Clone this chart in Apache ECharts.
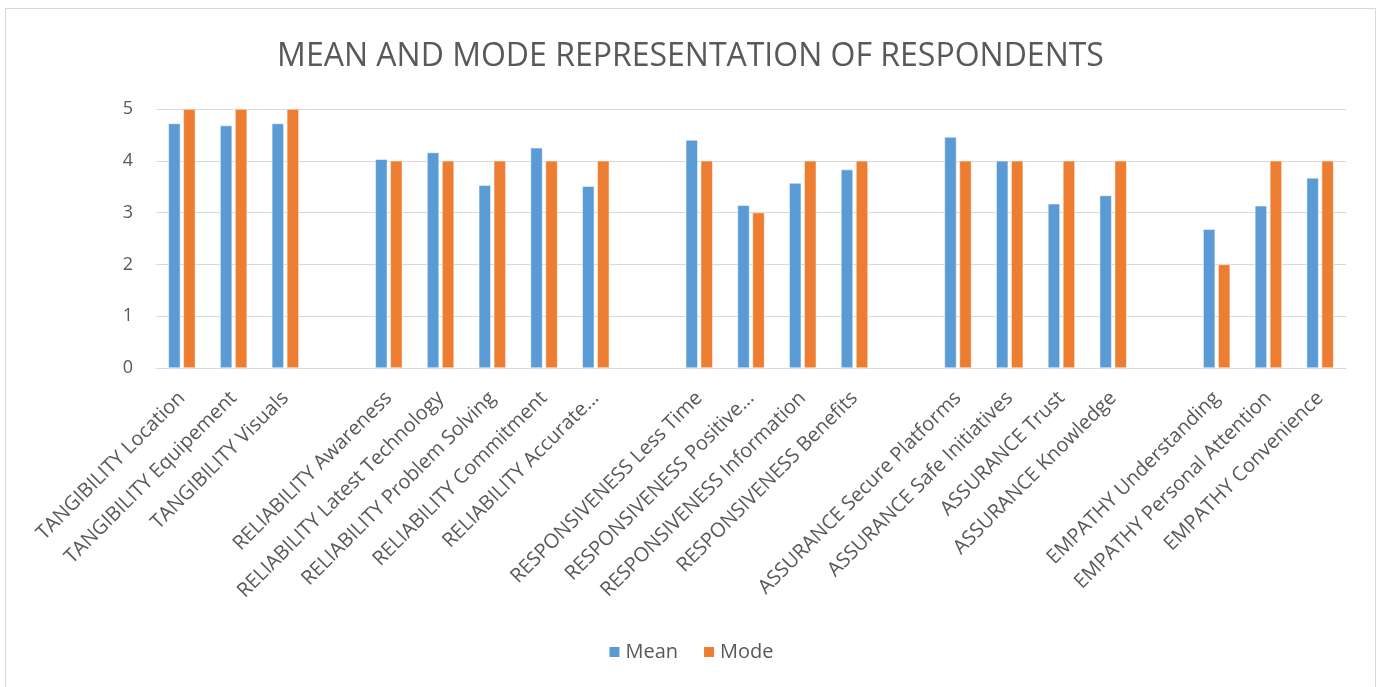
<!DOCTYPE html>
<html><head><meta charset="utf-8">
<script src="https://cdn.jsdelivr.net/npm/echarts@6/dist/echarts.min.js"></script>
<style>
html,body{margin:0;padding:0;background:#fff;}
#frame{position:absolute;left:5px;top:8px;width:1371px;height:690px;border:1px solid #d9d9d9;box-sizing:border-box;}
#c{width:1381px;height:687px;position:absolute;left:0;top:0;}
</style></head>
<body><div id="frame"></div><div id="c"></div>
<script>
const categories = [
 'TANGIBILITY Location','TANGIBILITY Equipement','TANGIBILITY Visuals','',
 'RELIABILITY Awareness','RELIABILITY Latest Technology','RELIABILITY Problem Solving','RELIABILITY Commitment','RELIABILITY Accurate...','',
 'RESPONSIVENESS Less Time','RESPONSIVENESS Positive...','RESPONSIVENESS Information','RESPONSIVENESS Benefits','',
 'ASSURANCE Secure Platforms','ASSURANCE Safe Initiatives','ASSURANCE Trust','ASSURANCE Knowledge','',
 'EMPATHY Understanding','EMPATHY Personal Attention','EMPATHY Convenience'
];
const meanValues = [4.72,4.68,4.72,'-', 4.03,4.16,3.53,4.25,3.51,'-', 4.40,3.14,3.57,3.83,'-', 4.46,4.00,3.17,3.33,'-', 2.68,3.13,3.67];
const modeValues = [5,5,5,'-', 4,4,4,4,4,'-', 4,3,4,4,'-', 4,4,4,4,'-', 2,4,4];
const yTicks = [0,1,2,3,4,5];

const chart = echarts.init(document.getElementById('c'));
const font = 'Open Sans';
chart.setOption({
  animation:false,
  textStyle:{fontFamily:font},
  title:{text:'MEAN AND MODE REPRESENTATION OF RESPONDENTS',left:'center',top:36,
    textStyle:{fontFamily:font,fontSize:32,fontWeight:'normal',color:'#595959'}},
  legend:{bottom:20,left:'center',itemWidth:12,itemHeight:12,itemGap:24,icon:'rect',
    textStyle:{fontFamily:font,fontSize:20,color:'#595959'},data:['Mean','Mode']},
  grid:{left:156,right:35,top:109,bottom:319,containLabel:false},
  xAxis:{type:'category',data:categories,
    axisLine:{lineStyle:{color:'#d9d9d9',width:1}},axisTick:{show:false},
    axisLabel:{interval:0,rotate:45,fontSize:20,color:'#595959',fontFamily:font,margin:27}},
  yAxis:{type:'value',min:yTicks[0],max:yTicks[yTicks.length-1],interval:1,
    axisLine:{show:false},axisTick:{show:false},
    splitLine:{lineStyle:{color:'#d9d9d9',width:1}},
    axisLabel:{fontSize:18,color:'#595959',fontFamily:font,margin:23}},
  series:[
    {name:'Mean',type:'bar',data:meanValues,barWidth:12,barGap:'25%',
      itemStyle:{color:'#5b9bd5',borderColor:'#ffffff',borderWidth:0.5}},
    {name:'Mode',type:'bar',data:modeValues,barWidth:12,barGap:'25%',
      itemStyle:{color:'#ed7d31',borderColor:'#ffffff',borderWidth:0.5}}
  ]
});
</script></body></html>
